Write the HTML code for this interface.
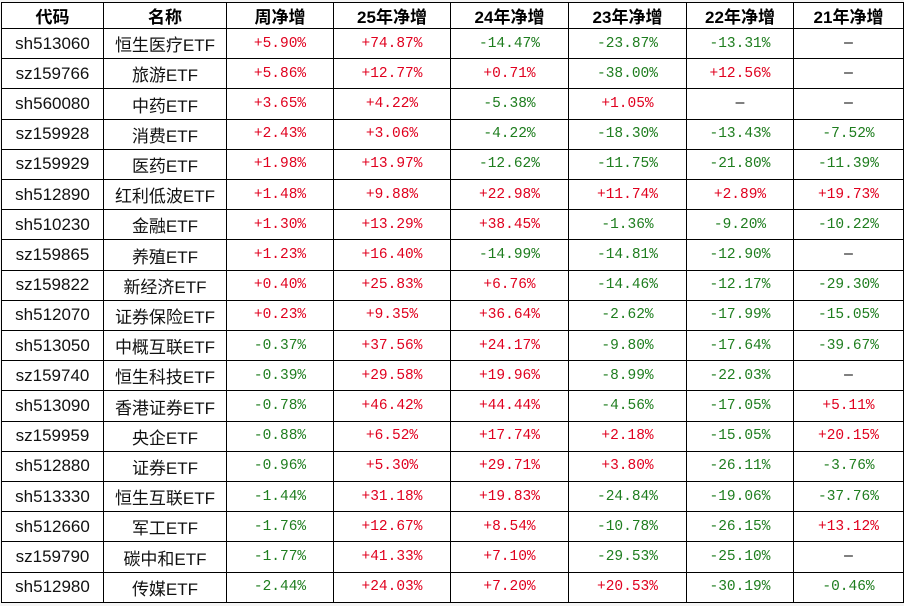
<!DOCTYPE html>
<html><head><meta charset="utf-8"><style>
body{margin:0;width:904px;height:606px;background:#f4f4f4;overflow:hidden}
table{position:absolute;left:1px;top:2px;height:601px;border-collapse:collapse;table-layout:fixed;background:#fff}
td,th{border:1.5px solid #000;padding:0;text-align:center;white-space:nowrap;overflow:hidden;line-height:20px;vertical-align:middle}
th{font:bold 17px "Liberation Sans","Noto Sans CJK SC",sans-serif;color:#000}
td{font:17px "Liberation Sans","Noto Sans CJK SC",sans-serif;color:#111}
td.n{font:14.5px "Liberation Mono","Noto Sans CJK SC",monospace}
.r{color:#e0001e}.g{color:#1e7d1e}.d{color:#000}
</style></head><body>
<table>
<colgroup><col style="width:102px"><col style="width:123px"><col style="width:107px"><col style="width:117px"><col style="width:118px"><col style="width:118px"><col style="width:107px"><col style="width:110px"></colgroup>
<thead><tr><th>代码</th><th>名称</th><th>周净增</th><th>25年净增</th><th>24年净增</th><th>23年净增</th><th>22年净增</th><th>21年净增</th></tr></thead>
<tbody id="tb"></tbody></table>
<script>
const codes=["sh513060","sz159766","sh560080","sz159928","sz159929","sh512890","sh510230","sz159865","sz159822","sh512070","sh513050","sz159740","sh513090","sz159959","sh512880","sh513330","sh512660","sz159790","sh512980"];
const names=["恒生医疗ETF","旅游ETF","中药ETF","消费ETF","医药ETF","红利低波ETF","金融ETF","养殖ETF","新经济ETF","证券保险ETF","中概互联ETF","恒生科技ETF","香港证券ETF","央企ETF","证券ETF","恒生互联ETF","军工ETF","碳中和ETF","传媒ETF"];
const wk=["+5.90","+5.86","+3.65","+2.43","+1.98","+1.48","+1.30","+1.23","+0.40","+0.23","-0.37","-0.39","-0.78","-0.88","-0.96","-1.44","-1.76","-1.77","-2.44"];
const y25=["+74.87","+12.77","+4.22","+3.06","+13.97","+9.88","+13.29","+16.40","+25.83","+9.35","+37.56","+29.58","+46.42","+6.52","+5.30","+31.18","+12.67","+41.33","+24.03"];
const y24=["-14.47","+0.71","-5.38","-4.22","-12.62","+22.98","+38.45","-14.99","+6.76","+36.64","+24.17","+19.96","+44.44","+17.74","+29.71","+19.83","+8.54","+7.10","+7.20"];
const y23=["-23.87","-38.00","+1.05","-18.30","-11.75","+11.74","-1.36","-14.81","-14.46","-2.62","-9.80","-8.99","-4.56","+2.18","+3.80","-24.84","-10.78","-29.53","+20.53"];
const y22=["-13.31","+12.56","","-13.43","-21.80","+2.89","-9.20","-12.90","-12.17","-17.99","-17.64","-22.03","-17.05","-15.05","-26.11","-19.06","-26.15","-25.10","-30.19"];
const y21=["","","","-7.52","-11.39","+19.73","-10.22","","-29.30","-15.05","-39.67","","+5.11","+20.15","-3.76","-37.76","+13.12","","-0.46"];
const tb=document.getElementById('tb');
function cell(tr,v,name){const td=document.createElement('td');td.className='n';


if(v===""){td.textContent="—";td.classList.add('d');}else{td.textContent=v+"%";td.classList.add(v[0]=='+'?'r':'g');}tr.appendChild(td);}
codes.forEach((c,i)=>{const tr=document.createElement('tr');


const a=document.createElement('td');a.textContent=c;


tr.appendChild(a);
const b=document.createElement('td');b.textContent=names[i];


tr.appendChild(b);
cell(tr,wk[i],'week-change');cell(tr,y25[i],'y25-change');cell(tr,y24[i],'y24-change');cell(tr,y23[i],'y23-change');cell(tr,y22[i],'y22-change');cell(tr,y21[i],'y21-change');
tb.appendChild(tr);});
</script></body></html>
